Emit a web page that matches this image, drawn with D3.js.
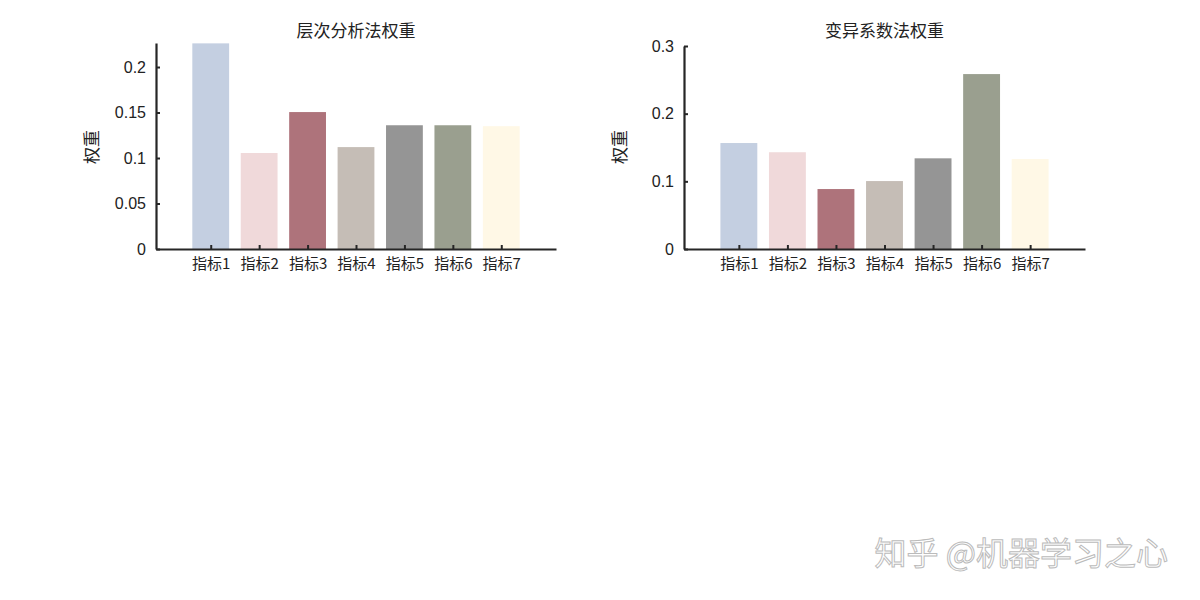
<!DOCTYPE html>
<html><head><meta charset="utf-8">
<script src="https://cdn.jsdelivr.net/npm/d3@7"></script>
<style>body{margin:0;background:#fff}svg{font-family:"Liberation Sans",Arial,sans-serif}</style>
</head><body><svg id="c" width="1200" height="600"></svg>
<script>
var categories = ["指标1","指标2","指标3","指标4","指标5","指标6","指标7"];
var ahpWeights = [0.226, 0.1055, 0.1505, 0.112, 0.136, 0.136, 0.135];
var cvWeights = [0.1566, 0.143, 0.0886, 0.1004, 0.134, 0.2585, 0.133];
var colors = ["#c4cfe1","#f0d9da","#ae737b","#c5bdb6","#959595","#9a9f8f","#fff8e6"];
var ahpTicks = [0, 0.05, 0.1, 0.15, 0.2];
var cvTicks = [0, 0.1, 0.2, 0.3];

var svg = d3.select("#c");

function drawPanel(opts) {
    var g = svg.append("g"),
        x = d3.scaleLinear().domain([-0.13, 8.13]).range([opts.left, opts.right]),
        y = d3.scaleLinear().domain([0, opts.ymax]).range([249, opts.top]),
        bw = x(0.76) - x(0);

    g.selectAll("rect").data(opts.values).enter().append("rect")
        .attr("x", function(d, i) { return x(i + 1) - bw / 2; })
        .attr("y", function(d) { return y(d); })
        .attr("width", bw)
        .attr("height", function(d) { return y(0) - y(d); })
        .attr("fill", function(d, i) { return colors[i]; });

    var xa = g.append("g").attr("transform", "translate(0,249)")
        .call(d3.axisBottom(x).tickValues(d3.range(1, 8)).tickSizeInner(-4).tickSizeOuter(0)
            .tickFormat(function(d) { return categories[d - 1]; }));
    xa.selectAll("text").attr("dy", "1.1em").attr("font-size", 15).attr("fill", "#222")
        .attr("font-family", "'Noto Sans CJK SC', sans-serif");

    var ya = g.append("g").attr("transform", "translate(" + opts.left + ",0)")
        .call(d3.axisLeft(y).tickValues(opts.ticks).tickSizeInner(-4).tickSizeOuter(0)
            .tickFormat(d3.format("")));
    ya.selectAll("text").attr("x", -10).attr("font-size", 16).attr("fill", "#222");

    g.selectAll(".domain").attr("stroke", "#262626").attr("stroke-width", 2.2);
    g.selectAll(".tick line").attr("stroke", "#262626").attr("stroke-width", 2);

    g.append("text").attr("x", (opts.left + opts.right) / 2).attr("y", 37)
        .attr("text-anchor", "middle").attr("font-size", 17).attr("fill", "#222")
        .attr("font-family", "'Noto Sans CJK SC', sans-serif").text(opts.title);
    g.append("text").attr("transform", "translate(" + (opts.left - 58) + ",147) rotate(-90)")
        .attr("text-anchor", "middle").attr("font-size", 17).attr("fill", "#222")
        .attr("font-family", "'Noto Sans CJK SC', sans-serif").text("权重");
}

drawPanel({ left: 156, right: 556, top: 43, ymax: 0.2264, values: ahpWeights, ticks: ahpTicks, title: "层次分析法权重" });
drawPanel({ left: 684, right: 1085, top: 46, ymax: 0.3, values: cvWeights, ticks: cvTicks, title: "变异系数法权重" });

svg.append("text").attr("x", 1168).attr("y", 565).attr("text-anchor", "end")
    .attr("font-size", 32).attr("fill", "#fff").attr("stroke", "#bbb").attr("stroke-width", 1)
    .attr("font-family", "'Noto Sans CJK SC', sans-serif").text("知乎 @机器学习之心");
</script></body></html>
